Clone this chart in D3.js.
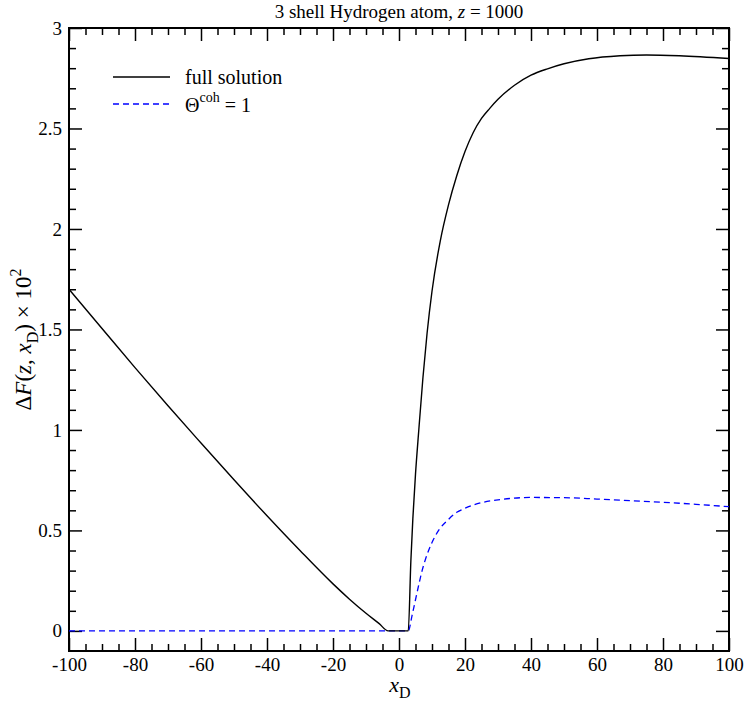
<!DOCTYPE html>
<html>
<head>
<meta charset="utf-8">
<script src="https://cdn.jsdelivr.net/npm/d3@7"></script>
<style>
  body { margin: 0; background: #fff; }
  svg { display: block; }
  text { font-family: "Liberation Serif", "Times New Roman", "DejaVu Serif", serif; fill: #000; }
</style>
</head>
<body>
<svg id="chart" width="747" height="703"></svg>
<script>
// ---- data ----
const fullX = [-100, -90, -80, -70, -60, -50, -40, -30, -20, -15, -10, -6, -3.3, 2.8, 3.6, 4.2, 5, 6, 7.25, 8.5, 10, 12.5, 15, 17.5, 20, 22.5, 25, 27.5, 30, 35, 40, 45, 50, 57.5, 67, 75, 85, 100];
const fullY = [1.70, 1.505, 1.31, 1.12, 0.935, 0.752, 0.573, 0.40, 0.234, 0.158, 0.088, 0.036, 0, 0, 0.35, 0.56, 0.78, 1.0, 1.26, 1.48, 1.69, 1.94, 2.12, 2.265, 2.385, 2.48, 2.55, 2.60, 2.645, 2.715, 2.765, 2.797, 2.822, 2.847, 2.862, 2.866, 2.862, 2.848];
const cohX = [-100, 2.8, 4, 5, 6, 7, 8, 10, 12, 15, 17.5, 20, 25, 30, 40, 50, 60, 70, 80, 90, 100];
const cohY = [0, 0, 0.08, 0.155, 0.23, 0.30, 0.355, 0.44, 0.50, 0.555, 0.59, 0.61, 0.638, 0.652, 0.664, 0.663, 0.656, 0.648, 0.64, 0.63, 0.618];
const xTicks = [-100, -80, -60, -40, -20, 0, 20, 40, 60, 80, 100];
const yTicks = [0, 0.5, 1, 1.5, 2, 2.5, 3];
const yTickLabels = ["0", "0.5", "1", "1.5", "2", "2.5", "3"];
const seriesNames = ["full solution", "Θ"];

// ---- layout ----
const svg = d3.select("#chart");
const L = 69, R = 729, T = 28, B = 651;
const x = d3.scaleLinear().domain([-100, 100]).range([L, R]);
const y = d3.scaleLinear().domain([-0.1, 3]).range([B, T]);

const xMinor = d3.range(-100, 100.01, 5).filter(v => !xTicks.includes(v));
const yMinor = d3.range(-0.1, 3.001, 0.1).map(v => Math.round(v * 10) / 10).filter(v => !yTicks.some(t => Math.abs(t - v) < 1e-9) && v > -0.1 && v < 3);

function styleAxis(g) {
  g.attr("font-family", "Liberation Serif");
  g.select(".domain").remove();
  g.selectAll(".tick line").attr("stroke", "#000").attr("stroke-width", 1.5);
}

// major ticks with labels
svg.append("g").attr("transform", `translate(0,${B})`)
  .call(d3.axisBottom(x).tickValues(xTicks).tickSize(-13).tickPadding(7).tickFormat(d => String(d)))
  .call(styleAxis)
  .call(g => g.selectAll("text").attr("font-size", 19).attr("fill", "#000"));
svg.append("g").attr("transform", `translate(0,${B})`)
  .call(d3.axisBottom(x).tickValues(xMinor).tickSize(-7).tickFormat(""))
  .call(styleAxis);
svg.append("g").attr("transform", `translate(0,${T})`)
  .call(d3.axisTop(x).tickValues(xTicks).tickSize(-13).tickFormat(""))
  .call(styleAxis);
svg.append("g").attr("transform", `translate(0,${T})`)
  .call(d3.axisTop(x).tickValues(xMinor).tickSize(-7).tickFormat(""))
  .call(styleAxis);

svg.append("g").attr("transform", `translate(${L},0)`)
  .call(d3.axisLeft(y).tickValues(yTicks).tickSize(-13).tickPadding(7).tickFormat((d, i) => yTickLabels[i]))
  .call(styleAxis)
  .call(g => g.selectAll("text").attr("font-size", 19).attr("fill", "#000"));
svg.append("g").attr("transform", `translate(${L},0)`)
  .call(d3.axisLeft(y).tickValues(yMinor).tickSize(-7).tickFormat(""))
  .call(styleAxis);
svg.append("g").attr("transform", `translate(${R},0)`)
  .call(d3.axisRight(y).tickValues(yTicks).tickSize(-13).tickFormat(""))
  .call(styleAxis);
svg.append("g").attr("transform", `translate(${R},0)`)
  .call(d3.axisRight(y).tickValues(yMinor).tickSize(-7).tickFormat(""))
  .call(styleAxis);

// frame
svg.append("rect").attr("x", L).attr("y", T).attr("width", R - L).attr("height", B - T)
  .attr("fill", "none").attr("stroke", "#000").attr("stroke-width", 2);

// lines
const line = d3.line().x(d => x(d[0])).y(d => y(d[1])).curve(d3.curveMonotoneX);
const cohData = cohX.map((v, i) => [v, cohY[i]]);
const fullData = fullX.map((v, i) => [v, fullY[i]]);

svg.append("path").datum(cohData).attr("d", line)
  .attr("fill", "none").attr("stroke", "#0000ff").attr("stroke-width", 1.3).attr("stroke-dasharray", "6,4");
svg.append("path").datum(fullData).attr("d", line)
  .attr("fill", "none").attr("stroke", "#000").attr("stroke-width", 1.4);

// title
const title = svg.append("text").attr("x", (L + R) / 2).attr("y", 18).attr("text-anchor", "middle").attr("font-size", 19);
title.append("tspan").text("3 shell Hydrogen atom, ");
title.append("tspan").attr("font-style", "italic").text("z");
title.append("tspan").text(" = 1000");

// x label
const xl = svg.append("text").attr("x", 400).attr("y", 692).attr("text-anchor", "middle").attr("font-size", 22);
xl.append("tspan").attr("font-style", "italic").text("x");
xl.append("tspan").attr("font-size", 16).attr("dy", 6).text("D");

// y label
const yl = svg.append("text").attr("transform", `translate(31,${(T + B) / 2}) rotate(-90)`).attr("text-anchor", "middle").attr("font-size", 23);
yl.append("tspan").text("Δ");
yl.append("tspan").attr("font-style", "italic").text("F");
yl.append("tspan").text("(");
yl.append("tspan").attr("font-style", "italic").text("z");
yl.append("tspan").text(", ");
yl.append("tspan").attr("font-style", "italic").text("x");
yl.append("tspan").attr("font-size", 16).attr("dy", 7).text("D");
yl.append("tspan").attr("dy", -7).text(") × 10");
yl.append("tspan").attr("font-size", 16).attr("dy", -10).text("2");

// legend
svg.append("line").attr("x1", 113).attr("x2", 170).attr("y1", 77).attr("y2", 77)
  .attr("stroke", "#000").attr("stroke-width", 1.4);
svg.append("text").attr("x", 185).attr("y", 84).attr("font-size", 20).text(seriesNames[0]);
svg.append("line").attr("x1", 113).attr("x2", 170).attr("y1", 104).attr("y2", 104)
  .attr("stroke", "#0000ff").attr("stroke-width", 1.3).attr("stroke-dasharray", "6,4");
const lg = svg.append("text").attr("x", 185).attr("y", 112).attr("font-size", 20);
lg.append("tspan").text(seriesNames[1]);
lg.append("tspan").attr("font-size", 14).attr("dy", -10).text("coh");
lg.append("tspan").attr("dy", 10).text(" = 1");
</script>
</body>
</html>
